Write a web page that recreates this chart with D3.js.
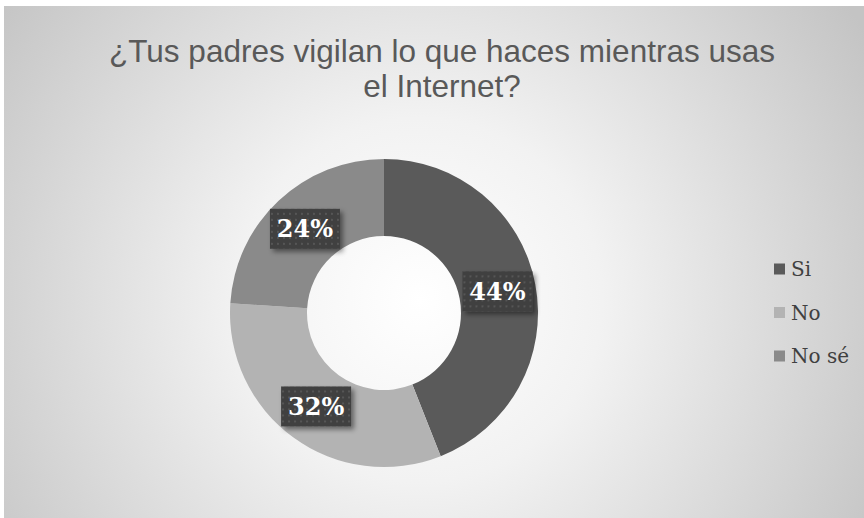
<!DOCTYPE html>
<html>
<head>
<meta charset="utf-8">
<script src="https://cdn.jsdelivr.net/npm/d3@7"></script>
<style>
  html, body { margin: 0; padding: 0; background: #ffffff; }
  svg { display: block; }
</style>
</head>
<body>
<script>
// Survey answers and their shares (percent)
const categories = ["Si", "No", "No sé"];
const values = [44, 32, 24];
const colors = ["#5a5a5a", "#b3b3b3", "#8a8a8a"];
const titleLines = ["¿Tus padres vigilan lo que haces mientras usas", "el Internet?"];

const W = 864, H = 518;
const svg = d3.select("body").append("svg").attr("width", W).attr("height", H);
const defs = svg.append("defs");

// Radial background of the chart area
const bg = defs.append("radialGradient").attr("id", "bg")
  .attr("gradientUnits", "userSpaceOnUse")
  .attr("cx", 420).attr("cy", 300).attr("r", 520);
bg.append("stop").attr("offset", "0%").attr("stop-color", "#ffffff");
bg.append("stop").attr("offset", "35%").attr("stop-color", "#f2f2f2");
bg.append("stop").attr("offset", "100%").attr("stop-color", "#c4c4c4");

// Dotted fill for the value labels
const pat = defs.append("pattern").attr("id", "dots")
  .attr("patternUnits", "userSpaceOnUse").attr("width", 6).attr("height", 6);
pat.append("rect").attr("width", 6).attr("height", 6).attr("fill", "#3f3f3f");
pat.append("rect").attr("x", 2).attr("y", 2).attr("width", 2).attr("height", 2).attr("fill", "#575757");

const shadow = defs.append("filter").attr("id", "shadow")
  .attr("x", "-20%").attr("y", "-20%").attr("width", "150%").attr("height", "160%");
shadow.append("feDropShadow").attr("dx", 3).attr("dy", 3).attr("stdDeviation", 2.5)
  .attr("flood-color", "#000").attr("flood-opacity", 0.45);

svg.append("rect").attr("x", 4).attr("y", 6).attr("width", W - 4).attr("height", H - 6)
  .attr("fill", "url(#bg)");

// Title
svg.append("text")
  .attr("x", 442).attr("y", 62)
  .attr("text-anchor", "middle")
  .attr("font-family", "Liberation Sans, Arial, sans-serif")
  .attr("font-size", 31.5)
  .attr("fill", "#595959")
  .selectAll("tspan").data(titleLines).join("tspan")
  .attr("x", 442).attr("dy", (d, i) => i === 0 ? 0 : 35)
  .text(d => d);

// Donut
const cx = 384, cy = 313, outerR = 154, innerR = 77;
const data = categories.map((c, i) => ({ cat: c, value: values[i], color: colors[i] }));
const pie = d3.pie().value(d => d.value).sort(null);
const arc = d3.arc().innerRadius(innerR).outerRadius(outerR);
const arcs = pie(data);

const g = svg.append("g").attr("transform", `translate(${cx},${cy})`);
g.selectAll("path").data(arcs).join("path")
  .attr("d", arc)
  .attr("fill", d => d.data.color);

// Value labels on dark dotted boxes
const total = d3.sum(values);
const lbl = g.selectAll("g.lbl").data(arcs).join("g")
  .attr("class", "lbl")
  .attr("transform", d => `translate(${arc.centroid(d)})`);
lbl.append("rect")
  .attr("x", -35).attr("y", -20).attr("width", 70).attr("height", 40)
  .attr("fill", "url(#dots)")
  .attr("filter", "url(#shadow)");
lbl.append("text")
  .attr("text-anchor", "middle").attr("dy", "0.36em")
  .attr("font-family", "DejaVu Serif, Liberation Serif, serif")
  .attr("font-weight", "bold")
  .attr("font-size", 24)
  .attr("fill", "#ffffff")
  .text(d => Math.round(d.data.value / total * 100) + "%");

// Legend
const legend = svg.append("g").attr("transform", "translate(774,269)");
const item = legend.selectAll("g").data(data).join("g")
  .attr("transform", (d, i) => `translate(0,${i * 43.5})`);
item.append("rect").attr("x", 0).attr("y", -5.5).attr("width", 11).attr("height", 11)
  .attr("fill", d => d.color);
item.append("text").attr("x", 17).attr("y", 0).attr("dy", "0.36em")
  .attr("font-family", "DejaVu Serif, Liberation Serif, serif")
  .attr("font-size", 20)
  .attr("fill", "#404040")
  .text(d => d.cat);
</script>
</body>
</html>
